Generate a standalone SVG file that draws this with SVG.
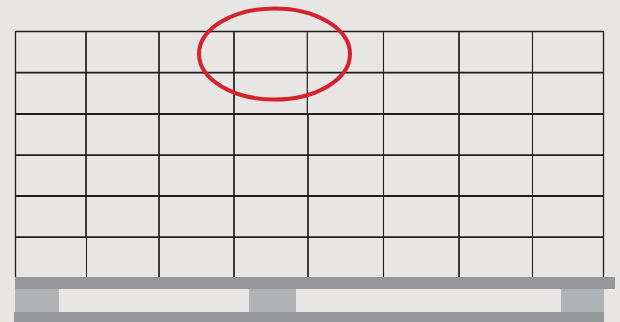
<svg xmlns="http://www.w3.org/2000/svg" width="620" height="322" viewBox="0 0 620 322">
<style>
.h{stroke:#1e1e1e;stroke-width:1.8;fill:none}
.v{stroke:#1e1e1e;fill:none}
.board{fill:#96979b}
.block{fill:#b1b2b4}
</style>
<rect x="0" y="0" width="620" height="322" fill="#e7e6e4"/>
<g id="load">
<line class="h" x1="15.5" y1="31.5" x2="603.5" y2="31.5" style="stroke-width:1.3"/>
<line class="h" x1="15.5" y1="72.7" x2="603.5" y2="72.7"/>
<line class="h" x1="15.5" y1="114" x2="603.5" y2="114"/>
<line class="h" x1="15.5" y1="155.2" x2="603.5" y2="155.2"/>
<line class="h" x1="15.5" y1="196" x2="603.5" y2="196"/>
<line class="h" x1="15.5" y1="237.2" x2="603.5" y2="237.2"/>
<line class="v" x1="15.5" y1="31" x2="15.5" y2="277" stroke-width="1.3"/>
<line class="v" x1="86" y1="31" x2="86" y2="237" stroke-width="1.7"/>
<line class="v" x1="86.5" y1="237" x2="86.5" y2="277" stroke-width="1"/>
<line class="v" x1="159" y1="31" x2="159" y2="277" stroke-width="1.7"/>
<line class="v" x1="234" y1="31" x2="234" y2="277" stroke-width="1.7"/>
<line class="v" x1="307.3" y1="31" x2="307.3" y2="114" stroke-width="1.2"/>
<line class="v" x1="308" y1="114" x2="308" y2="277" stroke-width="1.7"/>
<line class="v" x1="383.5" y1="31" x2="383.5" y2="277" stroke-width="1.1"/>
<line class="v" x1="459" y1="31" x2="459" y2="277" stroke-width="1.7"/>
<line class="v" x1="532.5" y1="31" x2="532.5" y2="277" stroke-width="1.1"/>
<line class="v" x1="603.5" y1="31" x2="603.5" y2="277" stroke-width="1.3"/>
</g>
<g id="pallet">
<rect class="board" x="15" y="277" width="600" height="12"/>
<rect class="block" x="15" y="289" width="44" height="23"/>
<rect class="block" x="249" y="289" width="47" height="23"/>
<rect class="block" x="561" y="289" width="43" height="23"/>
<rect class="board" x="14" y="312" width="590" height="10"/>
</g>
<g id="highlight">
<ellipse cx="274.5" cy="54" rx="75.5" ry="45.5" fill="none" stroke="#d4232c" stroke-width="4"/>
</g>
</svg>
